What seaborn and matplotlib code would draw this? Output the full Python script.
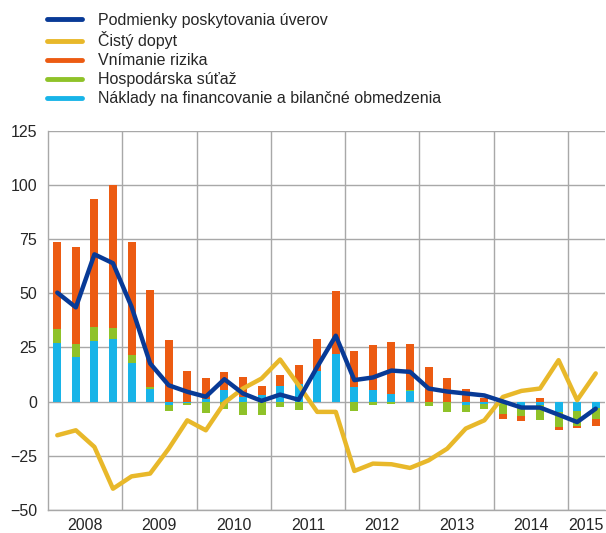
import numpy as np
import pandas as pd
import seaborn as sns
import matplotlib.pyplot as plt
from matplotlib.lines import Line2D

# quarterly data 2008Q1 - 2015Q2
years = ['2008', '2009', '2010', '2011', '2012', '2013', '2014', '2015']
quarters_per_year = [4, 4, 4, 4, 4, 4, 4, 2]

naklady = [27, 20.5, 28, 29, 17.7, 5.7, -1.7, -0.8, 1, 5.2, 2, 2.9, 7.2, 8.2, 14.2, 22,
           6.6, 5.4, 3.5, 4.8, 0, 0, -1.7, -1.2, -0.9, -2.3, -1.4, -5, -4.6, -2.8]
sutaz = [6.5, 6, 6.4, 5, 3.7, 0.9, -2.6, -1, -5.3, -3.4, -6.2, -6.2, -2.5, -3.9, 0, 0,
         -4.5, -1.7, -1.3, 0.5, -2.2, -5, -3.3, -2.4, -5, -4.5, -7.3, -7, -6.8, -5.4]
riziko = [40.2, 45, 59.2, 66, 52.3, 45, 28.4, 14, 9.8, 8.4, 9.2, 4.2, 5, 8.6, 14.6, 29,
          16.7, 20.7, 24, 21.2, 15.9, 10.8, 5.6, 1.5, -2.3, -2.3, 1.5, -1.3, -1, -3.2]
podmienky = [50.3, 43.5, 68, 63.9, 43.8, 17.6, 7.5, 4.5, 2.2, 10.3, 3.7, 0.3, 3.2, 0.8,
             16, 30.4, 9.9, 11.1, 14.3, 13.7, 6, 4.6, 3.7, 2.8, 0, -2.8, -2.8, -6.1, -9.5, -3.3]
dopyt = [-15.6, -13.3, -21, -40.3, -34.6, -33.3, -21.8, -8.7, -13.3, -0.6, 6, 10.6, 19.4,
         7.5, -4.8, -4.8, -32.1, -28.7, -29, -30.7, -27.2, -21.8, -12.5, -8.7, 2.1, 4.9,
         6, 19.1, 0.6, 13]

c_blue = '#083a96'
c_yellow = '#e8b82a'
c_orange = '#ec5b12'
c_green = '#8fc229'
c_cyan = '#18b4e8'
grid_c = '#a8a8a8'

sns.set_style('white')
plt.rcParams['font.family'] = ['Liberation Sans', 'DejaVu Sans']
plt.rcParams['font.size'] = 11.5

df = pd.DataFrame({'q': np.arange(len(podmienky)), 'podmienky': podmienky, 'dopyt': dopyt})

fig = plt.figure(figsize=(6.06, 5.33), dpi=100)
ax = fig.add_axes([48 / 606, 23.3 / 533, 557 / 606, 378.7 / 533])

# stacked bars, positive and negative parts separately
x = df['q'].values
pos = np.zeros(len(x))
neg = np.zeros(len(x))
for vals, col in [(naklady, c_cyan), (sutaz, c_green), (riziko, c_orange)]:
    v = np.array(vals, dtype=float)
    b = np.where(v >= 0, pos, neg)
    ax.bar(x, v, bottom=b, width=0.43, color=col, linewidth=0, zorder=2)
    pos = pos + np.clip(v, 0, None)
    neg = neg + np.clip(v, None, 0)

sns.lineplot(data=df, x='q', y='dopyt', color=c_yellow, lw=3.2, ax=ax, zorder=3)
sns.lineplot(data=df, x='q', y='podmienky', color=c_blue, lw=3.2, ax=ax, zorder=4)

ax.set_xlim(-0.5, len(x) - 0.5)
ax.set_ylim(-50, 125)
ax.set_yticks(np.arange(-50, 126, 25))
ax.yaxis.grid(True, color=grid_c, lw=1)

bounds = np.cumsum([0] + quarters_per_year) - 0.5
for bx in bounds[1:-1]:
    ax.axvline(bx, color=grid_c, lw=1, zorder=1)
ax.set_xticks(bounds[:-1])
ax.set_xticklabels([])
centers = (bounds[:-1] + bounds[1:]) / 2
ax.set_xticks(centers, minor=True)
ax.set_xticklabels(years, minor=True)
ax.tick_params(axis='x', which='major', length=6, color=grid_c, width=1)
ax.tick_params(axis='x', which='minor', length=0, pad=6)
ax.tick_params(axis='y', length=0, pad=8)
ax.set_xlabel('')
ax.set_ylabel('')

for s in ['top', 'right']:
    ax.spines[s].set_visible(False)
for s in ['left', 'bottom']:
    ax.spines[s].set_color(grid_c)
    ax.spines[s].set_linewidth(1)

handles = [Line2D([], [], color=c, lw=3.5) for c in [c_blue, c_yellow, c_orange, c_green, c_cyan]]
labels = ['Podmienky poskytovania úverov', 'Čistý dopyt', 'Vnímanie rizika',
          'Hospodárska súťaž', 'Náklady na financovanie a bilančné obmedzenia']
fig.legend(handles, labels, loc='upper left', bbox_to_anchor=(47 / 606, 1 - 12.5 / 533),
           frameon=False, borderpad=0, borderaxespad=0, handlelength=2.2,
           handletextpad=1.0, labelspacing=0.25, fontsize=11.5)

fig.savefig('out.png', dpi=100)
